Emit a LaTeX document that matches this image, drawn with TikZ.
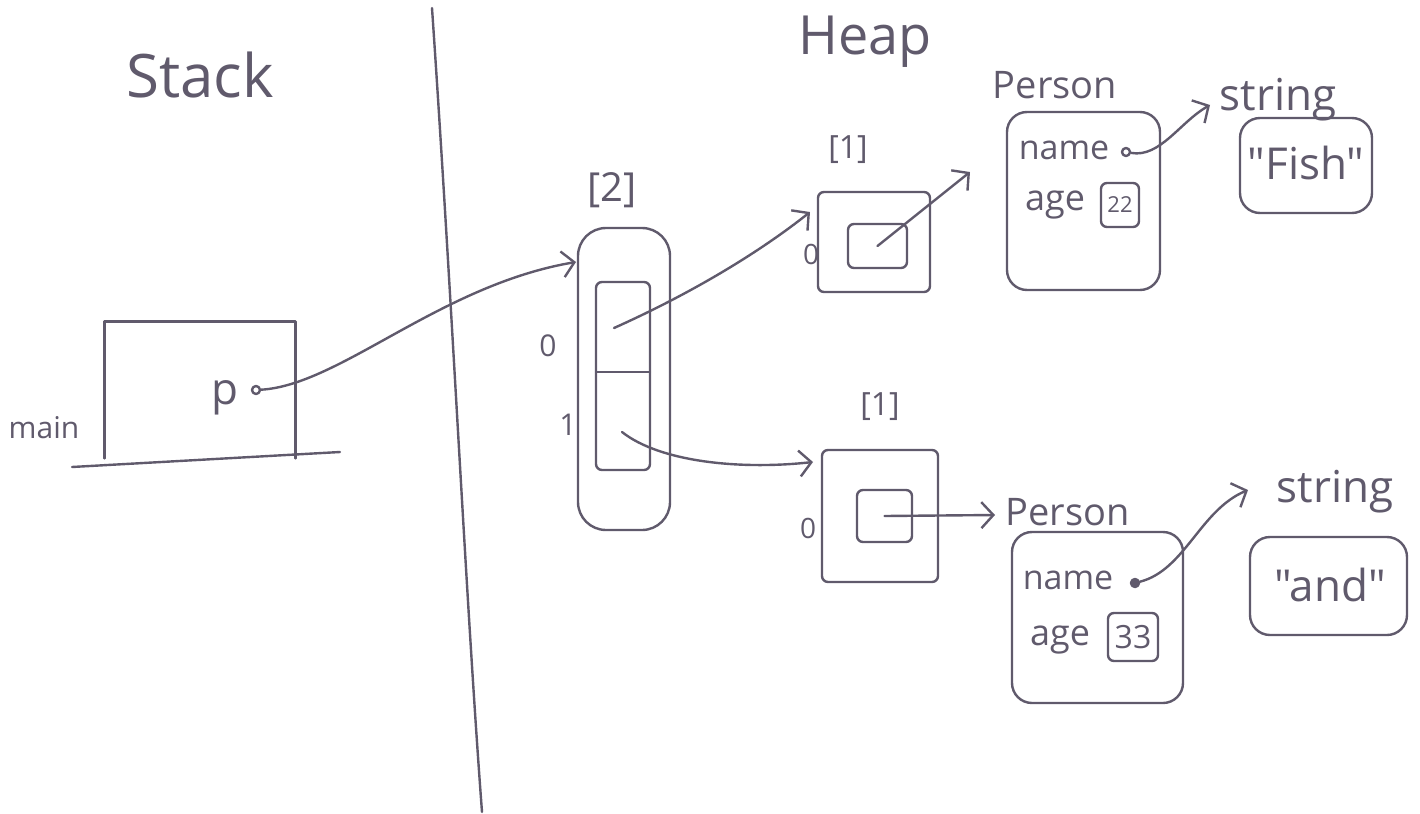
\documentclass[tikz,border=0pt]{standalone}
\usepackage{fontspec}
\setmainfont{Open Sans}[Ligatures=TeXOff]
\usetikzlibrary{arrows.meta,fit,calc}
\definecolor{pencil}{RGB}{96,90,108}
\begin{document}
\begin{tikzpicture}[x=0.5pt,y=-0.5pt,
  pen/.style={draw=pencil,line width=1.2pt,line cap=round,line join=round},
  box/.style={pen,inner sep=0pt,rounded corners=3pt},
  rbox/.style={pen,inner sep=0pt,rounded corners=10pt},
  arr/.style={pen,-{Straight Barb[length=6pt,width=13pt]}},
  lbl/.style={text=pencil,inner sep=0pt},
  dotc/.style={circle,pen,minimum size=4pt,inner sep=0pt},
  fs/.style={font=\fontsize{#1}{#1}\selectfont},
]
\useasboundingbox (0,0) rectangle (1420,814);
% titles and divider
\node[lbl,fs=30] (stack) at (200,75) {Stack};
\node[lbl,fs=27] (heap) at (865,42) {Heap};
\draw[pen] (432,8) .. controls (452,300) and (466,600) .. (482,812);
% stack frame
\node[inner sep=0pt,fit={(105,322)(295,458)}] (mainbox) {};
\draw[pen] (mainbox.south west) |- (mainbox.north east) -- (mainbox.south east);
\draw[pen] (72,467) -- (340,452);
\node[lbl,fs=15] (main) at (44,428) {main};
\node[lbl,fs=22] (p) at (225,398) {p};
\node[dotc] (pdot) at (256,390) {};
% array
\node[pen,inner sep=0pt,rounded corners=14pt,fit={(578,228)(670,530)}] (outer) {};
\node[box,fit={(596,282)(650,470)}] (inner) {};
\draw[pen] (596,372) -- (650,372);
\coordinate (c0) at (614,328);
\coordinate (c1) at (622,432);
\node[lbl,fs=20] (two) at (612,190) {[2]};
\node[lbl,fs=15] (i0) at (548,346) {0};
\node[lbl,fs=15] (i1) at (568,425) {1};
\coordinate (atip0) at (576,262);
\draw[arr] (pdot) .. controls (340,385) and (440,285) .. (atip0);
% upper element array
\node[box,fit={(818,192)(930,292)}] (ea) {};
\node[box,fit={(848,224)(907,268)}] (ia) {};
\node[lbl,fs=16] (onea) at (848,150) {[1]};
\node[lbl,fs=14] (za) at (811,254) {0};
\coordinate (atip1) at (810,212);
\draw[arr] (c0) .. controls (710,285) and (775,240) .. (atip1);
\coordinate (ptip1) at (970,172);
\draw[arr] (ia.center) -- (ptip1);
% lower element array
\node[box,fit={(822,450)(938,582)}] (eb) {};
\node[box,fit={(857,490)(912,542)}] (ib) {};
\node[lbl,fs=16] (oneb) at (880,407) {[1]};
\node[lbl,fs=14] (zb) at (808,528) {0};
\coordinate (atip2) at (813,462);
\draw[arr] (c1) .. controls (660,462) and (740,470) .. (atip2);
\coordinate (ptip2) at (995,515);
\draw[arr] (ib.center) -- (ptip2);
% person 1
\node[lbl,fs=19] (pers1) at (1055,85) {Person};
\node[rbox,fit={(1007,112)(1160,290)}] (pbox1) {};
\node[lbl,fs=17] (name1) at (1064,150) {name};
\node[dotc] (dot1) at (1126,152) {};
\node[lbl,fs=18] (age1) at (1055,205) {age};
\node[box,minimum width=19pt,minimum height=22pt,fs=11,text=pencil] (v22) at (1120,205) {22};
\coordinate (stip1) at (1210,105);
\draw[arr] (dot1) .. controls (1160,158) and (1180,122) .. (stip1);
\node[lbl,fs=22] (str1) at (1278,100) {string};
\node[rbox,fit={(1240,118)(1372,213)}] (sbox1) {};
\node[lbl,fs=22] (fish) at (1306,163) {"Fish"};
% person 2
\node[lbl,fs=19,anchor=west] (pers2) at (1005,512) {Person};
\node[rbox,fit={(1012,532)(1183,703)}] (pbox2) {};
\node[lbl,fs=17] (name2) at (1068,580) {name};
\node[dotc,fill=pencil] (dot2) at (1135,583) {};
\node[lbl,fs=18] (age2) at (1060,640) {age};
\node[box,minimum width=25pt,minimum height=24pt,fs=16,text=pencil] (v33) at (1133,637) {33};
\coordinate (stip2) at (1248,490);
\draw[arr] (dot2) .. controls (1185,570) and (1200,510) .. (stip2);
\node[lbl,fs=22] (str2) at (1335,492) {string};
\node[rbox,fit={(1250,537)(1407,635)}] (sbox2) {};
\node[lbl,fs=22] (andt) at (1330,585) {"and"};
\end{tikzpicture}
\end{document}
